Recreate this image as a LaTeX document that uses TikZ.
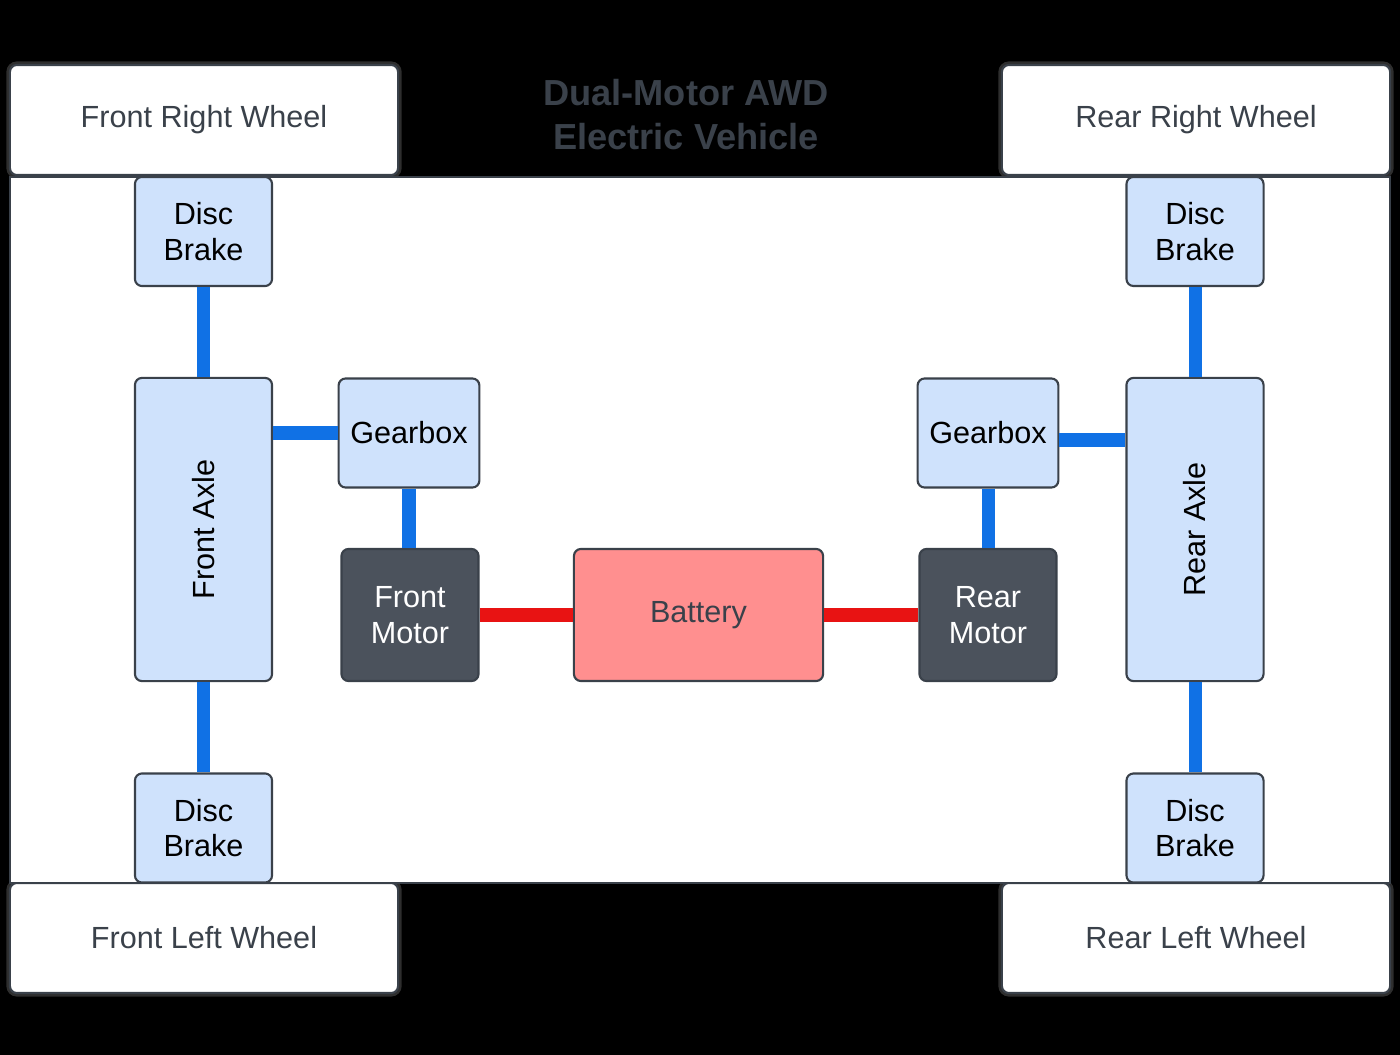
\documentclass[tikz,border=0pt]{standalone}
\usepackage{fontspec}
\setmainfont{Liberation Sans}
\usetikzlibrary{calc}
\definecolor{partBlue}{HTML}{CFE2FC}
\definecolor{shaftBlue}{HTML}{1071E5}
\definecolor{powerRed}{HTML}{E81313}
\definecolor{motorGray}{HTML}{4B525C}
\definecolor{batteryRed}{HTML}{FF8F8F}
\definecolor{lineGray}{HTML}{3A414A}
\definecolor{haloGray}{HTML}{2E2E2E}
\tikzset{
  part/.style={draw=lineGray, line width=0.6pt, fill=partBlue, rounded corners=2pt,
    minimum width=1.37cm, minimum height=1.09cm, align=center,
    font=\fontsize{8.7}{10.2}\selectfont},
  motor/.style={part, fill=motorGray, text=white, minimum height=1.32cm},
  wheel/.style={draw=lineGray, line width=0.6pt, fill=white, rounded corners=2pt,
    minimum width=3.88cm, minimum height=1.10cm, text=lineGray,
    font=\fontsize{8.7}{10.2}\selectfont,
    preaction={draw=haloGray, line width=2pt}},
  shaft/.style={shaftBlue, line width=3.7pt},
  power/.style={powerRed, line width=3.7pt}
}
\begin{document}
\begin{tikzpicture}[x=0.01cm,y=-0.01cm]
\fill[black] (0,0) rectangle (1400,1055);
% wheels
\node[wheel] (wFR) at (204,120) {Front Right Wheel};
\node[wheel] (wRR) at (1196,120) {Rear Right Wheel};
\node[wheel] (wFL) at (204,938) {Front Left Wheel};
\node[wheel] (wRL) at (1196,938) {Rear Left Wheel};
% body
\draw[lineGray, line width=0.5pt, fill=white] (10,177) rectangle (1390,883);
\node[text=lineGray, align=center, font=\bfseries\fontsize{10.3}{12.5}\selectfont] (title) at (686,115) {Dual-Motor AWD\\Electric Vehicle};
% front side
\node[part] (dbFR) at (203.5,231.5) {Disc\\Brake};
\node[part, minimum height=3.03cm] (axleF) at (203.5,529.5) {\rotatebox{90}{Front Axle}};
\node[part] (dbFL) at (203.5,828) {Disc\\Brake};
\node[part] (gbF) at (409,433) {Gearbox};
\node[motor] (mF) at (410,615) {Front\\Motor};
% battery
\node[part, fill=batteryRed, text=lineGray, minimum width=2.49cm, minimum height=1.32cm] (bat) at (698.5,615) {Battery};
% rear side
\node[motor] (mR) at (988,615) {Rear\\Motor};
\node[part] (gbR) at (988,433) {Gearbox};
\node[part, minimum height=3.03cm] (axleR) at (1195,529.5) {\rotatebox{90}{Rear Axle}};
\node[part] (dbRR) at (1195,231.5) {Disc\\Brake};
\node[part] (dbRL) at (1195,828) {Disc\\Brake};
% shafts
\draw[shaft] (dbFR.south) -- (axleF.north);
\draw[shaft] (axleF.south) -- (dbFL.north);
\draw[shaft] (axleF.east |- gbF.west) -- (gbF.west);
\draw[shaft] (gbF.south) -- (gbF.south |- mF.north);
\draw[shaft] (dbRR.south) -- (axleR.north);
\draw[shaft] (axleR.south) -- (dbRL.north);
\draw[shaft] ([yshift=-0.07cm]gbR.east) -- ([yshift=-0.07cm]gbR.east -| axleR.west);
\draw[shaft] (gbR.south) -- (mR.north);
% power
\draw[power] (mF.east) -- (bat.west);
\draw[power] (bat.east) -- (mR.west);
\end{tikzpicture}
\end{document}
